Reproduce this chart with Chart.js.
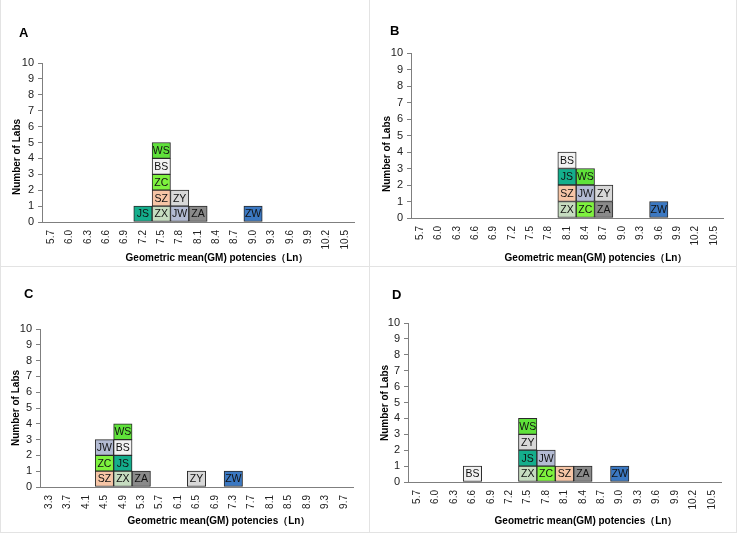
<!DOCTYPE html>
<html>
<head>
<meta charset="utf-8">
<script src="https://cdn.jsdelivr.net/npm/chart.js@4"></script>
<style>
  html, body { margin: 0; padding: 0; background: #fff; }
  #wrap { position: relative; width: 738px; height: 535px; overflow: hidden; }
  canvas { position: absolute; }
  .ln { position: absolute; background: #e3e3e3; }
</style>
</head>
<body>
<div id="wrap">
  <canvas id="cA"></canvas>
  <canvas id="cB"></canvas>
  <canvas id="cC"></canvas>
  <canvas id="cD"></canvas>
  <div class="ln" style="left:369px;top:0;width:1px;height:533px"></div>
  <div class="ln" style="left:0;top:266px;width:737px;height:1px"></div>
  <div class="ln" style="left:0;top:0;width:1px;height:533px"></div>
  <div class="ln" style="left:736px;top:0;width:1px;height:533px"></div>
  <div class="ln" style="left:0;top:532px;width:737px;height:1px"></div>
</div>
<script>
// ---- Data ----
const ticksAB = ["5.7","6.0","6.3","6.6","6.9","7.2","7.5","7.8","8.1","8.4","8.7","9.0","9.3","9.6","9.9","10.2","10.5"];
const ticksC  = ["3.3","3.7","4.1","4.5","4.9","5.3","5.7","6.1","6.5","6.9","7.3","7.7","8.1","8.5","8.9","9.3","9.7"];
const ticksD  = ["5.7","6.0","6.3","6.6","6.9","7.2","7.5","7.8","8.1","8.4","8.7","9.0","9.3","9.6","9.9","10.2","10.5"];

// labs listed bottom-up within each potency bin
const labsA = ["JS","ZX","SZ","ZC","BS","WS","JW","ZY","ZA","ZW"];
const potA  = ["7.2","7.5","7.5","7.5","7.5","7.5","7.8","7.8","8.1","9.0"];
const labsB = ["ZX","SZ","JS","BS","ZC","JW","WS","ZA","ZY","ZW"];
const potB  = ["8.1","8.1","8.1","8.1","8.4","8.4","8.4","8.7","8.7","9.6"];
const labsC = ["SZ","ZC","JW","ZX","JS","BS","WS","ZA","ZY","ZW"];
const potC  = ["4.5","4.5","4.5","4.9","4.9","4.9","4.9","5.3","6.5","7.3"];
const labsD = ["BS","ZX","JS","ZY","WS","ZC","JW","SZ","ZA","ZW"];
const potD  = ["6.6","7.5","7.5","7.5","7.5","7.8","7.8","8.1","8.4","9.0"];

const labColors = {
  JS: "#14ae8c", ZX: "#c6dcc0", SZ: "#f6c5a6", ZC: "#7ef23e", BS: "#f2f2f2",
  WS: "#5fe23a", JW: "#b3bbd3", ZY: "#d8d8d8", ZA: "#8a8a8a", ZW: "#3b78c2"
};

const xTitle = "Geometric mean(GM) potencies（Ln）";
const yTitle = "Number of Labs";

// ---- Layout (positions/sizes) ----
const panels = [
  { id: "cA", letter: "A", ticks: ticksAB, labs: labsA, pots: potA,
    left: 0, top: 0, w: 369, h: 266,
    area: { l: 42, r: 354, t: 63, b: 222 },
    letterPos: [19, 37], yT: [17, 157], xT: [217, 258] },
  { id: "cB", letter: "B", ticks: ticksAB, labs: labsB, pots: potB,
    left: 369, top: 0, w: 369, h: 266,
    area: { l: 42, r: 354, t: 53, b: 218 },
    letterPos: [21, 35], yT: [18, 154], xT: [227, 258] },
  { id: "cC", letter: "C", ticks: ticksC, labs: labsC, pots: potC,
    left: 0, top: 266, w: 369, h: 269,
    area: { l: 40, r: 353, t: 63, b: 221 },
    letterPos: [24, 32], yT: [16, 142], xT: [219, 255] },
  { id: "cD", letter: "D", ticks: ticksD, labs: labsD, pots: potD,
    left: 369, top: 266, w: 369, h: 269,
    area: { l: 39, r: 352, t: 57, b: 216 },
    letterPos: [23, 33], yT: [16, 137], xT: [217, 255] }
];

const FONT = "'Liberation Sans', Arial, sans-serif";

const cellLabels = {
  id: "cellLabels",
  afterDatasetsDraw(chart) {
    const ctx = chart.ctx;
    ctx.save();
    ctx.font = "10.5px " + FONT;
    ctx.fillStyle = "#111";
    ctx.textAlign = "center";
    ctx.textBaseline = "middle";
    chart.data.datasets.forEach((ds, di) => {
      const meta = chart.getDatasetMeta(di);
      meta.data.forEach((el, i) => {
        if (ds.data[i] == null) return;
        const t = ds.cellText[i];
        ctx.fillText(t, el.x, (el.y + el.base) / 2 + 0.5);
      });
    });
    ctx.restore();
  }
};

const extraText = {
  id: "extraText",
  afterDraw(chart) {
    const p = chart.options.plugins.extraText;
    const ctx = chart.ctx;
    ctx.save();
    ctx.fillStyle = "#000";
    ctx.font = "bold 13px " + FONT;
    ctx.textAlign = "left";
    ctx.textBaseline = "alphabetic";
    ctx.fillText(p.letter, p.letterPos[0], p.letterPos[1]);
    ctx.font = "bold 10px " + FONT;
    ctx.textAlign = "center";
    ctx.textBaseline = "middle";
    ctx.fillText(xTitle, p.xT[0], p.xT[1]);
    ctx.translate(p.yT[0], p.yT[1]);
    ctx.rotate(-Math.PI / 2);
    ctx.fillText(yTitle, 0, 0);
    ctx.restore();
  }
};

function buildDatasets(ticks, labs, pots) {
  const stacks = ticks.map(() => []);
  labs.forEach((lab, i) => {
    const idx = ticks.indexOf(pots[i]);
    stacks[idx].push(lab);
  });
  const maxH = Math.max(...stacks.map(s => s.length));
  const ds = [];
  for (let k = 0; k < maxH; k++) {
    ds.push({
      label: "layer " + (k + 1),
      data: stacks.map(s => (s.length > k ? 1 : null)),
      cellText: stacks.map(s => (s.length > k ? s[k] : "")),
      backgroundColor: stacks.map(s => (s.length > k ? labColors[s[k]] : "#fff")),
      borderColor: "#2a2a2a",
      borderWidth: 1,
      borderSkipped: false,
      barPercentage: 1,
      categoryPercentage: 1
    });
  }
  return ds;
}

panels.forEach(p => {
  const cv = document.getElementById(p.id);
  cv.width = p.w; cv.height = p.h;
  cv.style.left = p.left + "px"; cv.style.top = p.top + "px";
  cv.style.width = p.w + "px"; cv.style.height = p.h + "px";
  new Chart(cv, {
    type: "bar",
    data: { labels: p.ticks, datasets: buildDatasets(p.ticks, p.labs, p.pots) },
    options: {
      responsive: false,
      animation: false,
      devicePixelRatio: 1,
      layout: { padding: { top: p.area.t, right: p.w - p.area.r, bottom: 0, left: 0 } },
      plugins: {
        legend: { display: false },
        tooltip: { enabled: false },
        extraText: { letter: p.letter, letterPos: p.letterPos, xT: p.xT, yT: p.yT }
      },
      scales: {
        x: {
          stacked: true,
          grid: { display: false, drawTicks: false },
          border: { display: true, color: "#7f7f7f", width: 1 },
          ticks: {
            autoSkip: false, minRotation: 90, maxRotation: 90, padding: 8,
            color: "#222", font: { family: FONT, size: 10 }
          },
          afterFit(s) { s.height = p.h - p.area.b; }
        },
        y: {
          stacked: true, min: 0, max: 10,
          grid: { display: true, drawOnChartArea: false, drawTicks: true, tickLength: 4, color: "#7f7f7f" },
          border: { display: true, color: "#7f7f7f", width: 1 },
          ticks: { stepSize: 1, autoSkip: false, padding: 4, color: "#222", font: { family: FONT, size: 11 } },
          afterFit(s) { s.width = p.area.l; }
        }
      }
    },
    plugins: [cellLabels, extraText]
  });
});
</script>
</body>
</html>
